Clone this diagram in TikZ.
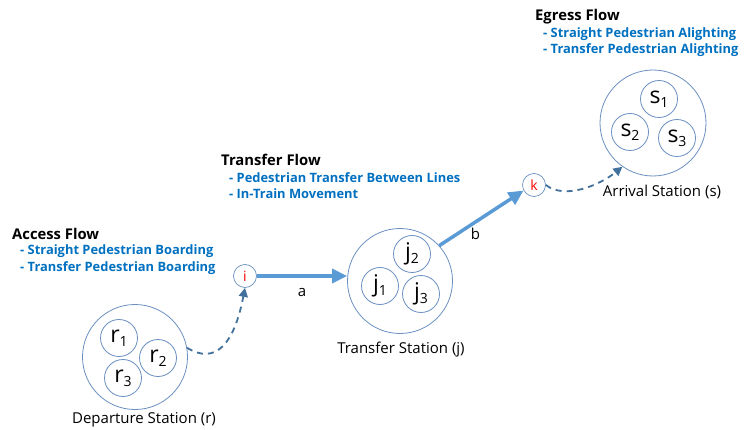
\documentclass[tikz,border=0pt]{standalone}
\usepackage{fontspec}
\setmainfont{Open Sans}
\usetikzlibrary{arrows.meta}
\definecolor{ringc}{HTML}{6A8FC0}
\definecolor{thickc}{HTML}{5B9BD5}
\definecolor{dashc}{HTML}{41719C}
\definecolor{bluetxt}{HTML}{0070C0}
\newcommand{\stlab}[2]{{\fontsize{23}{24}\selectfont #1}\raisebox{-4pt}{\fontsize{14}{14}\selectfont #2}}
\tikzset{
  bigring/.style={circle,draw=ringc,line width=0.8pt,minimum size=#1,inner sep=0pt},
  subring/.style={circle,draw=ringc,line width=0.8pt,minimum size=37pt,inner sep=0pt},
  ptnode/.style={circle,draw=ringc,line width=0.7pt,minimum size=23pt,inner sep=0pt,text=red,font=\fontsize{14}{14}\selectfont},
  thickarrow/.style={draw=thickc,line width=3.5pt,-{Triangle[length=15pt,width=14pt]}},
  dasharrow/.style={draw=dashc,line width=1.8pt,dash pattern=on 6pt off 5pt,-{Triangle[length=9pt,width=9pt]}},
  stationlbl/.style={font=\fontsize{15}{16}\selectfont},
  headtxt/.style={anchor=west,font=\bfseries\fontsize{14.8}{16}\selectfont,inner sep=0pt},
  itemtxt/.style={anchor=west,text=bluetxt,font=\bfseries\fontsize{12.9}{14}\selectfont,inner sep=0pt},
  edgelbl/.style={font=\fontsize{15}{16}\selectfont}
}
\begin{document}
\begin{tikzpicture}[x=1pt,y=-1pt]
\useasboundingbox (0,0) rectangle (744,430);
% Departure station
\node[bigring=105pt] (dep) at (135,357) {};
\node[subring] (r1) at (119,338) {\stlab{r}{1}};
\node[subring] (r2) at (158,358) {\stlab{r}{2}};
\node[subring] (r3) at (123,378) {\stlab{r}{3}};
\node[stationlbl] (deplbl) at (144,420) {Departure Station (r)};
% Transfer station
\node[bigring=105pt] (tra) at (400,281) {};
\node[subring] (j2) at (412,254) {\stlab{j}{2}};
\node[subring] (j1) at (380,286) {\stlab{j}{1}};
\node[subring] (j3) at (421,294) {\stlab{j}{3}};
\node[stationlbl] (tralbl) at (401,350) {Transfer Station (j)};
% Arrival station
\node[bigring=106pt] (arr) at (653,123) {};
\node[subring] (s1) at (659,99) {\stlab{s}{1}};
\node[subring] (s2) at (630,132) {\stlab{s}{2}};
\node[subring] (s3) at (677,138) {\stlab{s}{3}};
\node[stationlbl] (arrlbl) at (662,192) {Arrival Station (s)};
% points
\node[ptnode] (i) at (245,276) {i};
\node[ptnode] (k) at (534,185) {k};
% connectors
\draw[thickarrow] (i) -- (tra.west |- i) node[midway,below=7pt,text=black,edgelbl] (a) {a};
\draw[thickarrow] (tra.42) -- (k.208) node[midway,below=5pt,xshift=-6pt,text=black,edgelbl] (b) {b};
\draw[dasharrow] (dep.10) .. controls (215,365) and (234,345) .. (i.south);
\draw[dasharrow] (k.east) .. controls (565,200) and (600,185) .. (arr.235);
% texts
\node[headtxt] (ah) at (12,234) {Access Flow};
\node[itemtxt] (a1) at (20,251) {- Straight Pedestrian Boarding};
\node[itemtxt] (a2) at (20,268) {- Transfer Pedestrian Boarding};
\node[headtxt] (th) at (221,160) {Transfer Flow};
\node[itemtxt] (t1) at (229,178) {- Pedestrian Transfer Between Lines};
\node[itemtxt] (t2) at (229,194) {- In-Train Movement};
\node[headtxt] (eh) at (535,17) {Egress Flow};
\node[itemtxt] (e1) at (543,34) {- Straight Pedestrian Alighting};
\node[itemtxt] (e2) at (543,50) {- Transfer Pedestrian Alighting};
\end{tikzpicture}
\end{document}
